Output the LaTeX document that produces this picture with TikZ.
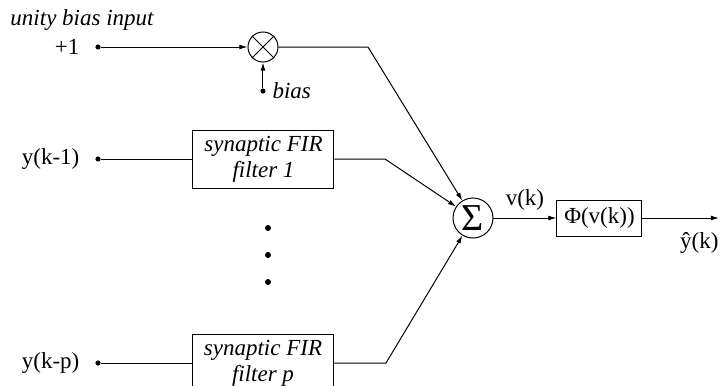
\documentclass[tikz,border=0pt]{standalone}
\usepackage{fontspec}
\setmainfont{Liberation Serif}
\usetikzlibrary{arrows.meta,positioning}
\begin{document}
\begin{tikzpicture}[
        x=0.5pt, y=-0.5pt,
        font=\fontsize{11.5pt}{13pt}\selectfont,
        line width=0.5pt,
        >={Latex[length=4pt,width=2.4pt]},
        inport/.style={circle, fill, inner sep=0pt, minimum size=2.6pt},
        firblock/.style={draw, minimum width=70.5pt, minimum height=29pt, inner sep=1pt,
          align=center, font=\fontsize{11.5pt}{13pt}\selectfont\itshape},
        junction/.style={draw, circle, inner sep=0pt},
        inlabel/.style={left=7.5pt of #1, inner sep=0pt}
      ]
      \useasboundingbox (0,0) rectangle (720,386);
      \clip (0,0) rectangle (720,386);

      % bias path
      \node[anchor=west, inner sep=0pt, font=\fontsize{11.5pt}{13pt}\selectfont\itshape]
        (biastitle) at (10,20) {unity bias input};
      \node[inport] (in0) at (98,47) {};
      \node[inlabel=in0] (one) {+1};
      \node[junction, minimum size=15pt] (mult) at (263,47) {};
      \draw (mult.45) -- (mult.225) (mult.135) -- (mult.315);
      \node[inport] (biasdot) at (263,91) {};
      \node[right=3pt of biasdot, inner sep=0pt, font=\fontsize{11.5pt}{13pt}\selectfont\itshape]
        (biaslabel) {bias};
      \coordinate (c0) at (368,47);

      % synaptic filters
      \node[inport] (in1) at (98,159) {};
      \node[inlabel=in1] (y1) {y(k-1)};
      \node[firblock] (fir1) at (263.5,159) {synaptic FIR\\filter 1};
      \coordinate (c1) at (385,159);

      \foreach \y in {228,255,282}
        \fill (268,\y) circle (1.5pt);

      \node[inport] (inp) at (98,363) {};
      \node[inlabel=inp] (yp) {y(k-p)};
      \node[firblock] (firp) at (263,363) {synaptic FIR\\filter p};
      \coordinate (cp) at (386,363);

      % summing junction and activation
      \node[junction, minimum size=20pt, font=\fontsize{19pt}{19pt}\selectfont] (sum) at (473,218) {Σ};
      \node[draw, minimum width=42.5pt, minimum height=18pt, inner sep=1pt] (phi) at (599.5,218) {Φ(v(k))};
      \coordinate (out) at (719,218);
      \node[below left=7pt and 0pt of out, inner sep=0pt] (yhat) {\^{y}(k)};

      \draw[->] (in0) -- (mult);
      \draw[->] (biasdot) -- (mult);
      \draw[->] (mult) -- (c0) -- (sum);
      \draw (in1) -- (fir1);
      \draw[->] (fir1) -- (c1) -- (sum);
      \draw (inp) -- (firp);
      \draw[->] (firp) -- (cp) -- (sum);
      \draw[->] (sum) -- node[above] {v(k)} (phi);
      \draw[->] (phi) -- (out);
\end{tikzpicture}
\end{document}
